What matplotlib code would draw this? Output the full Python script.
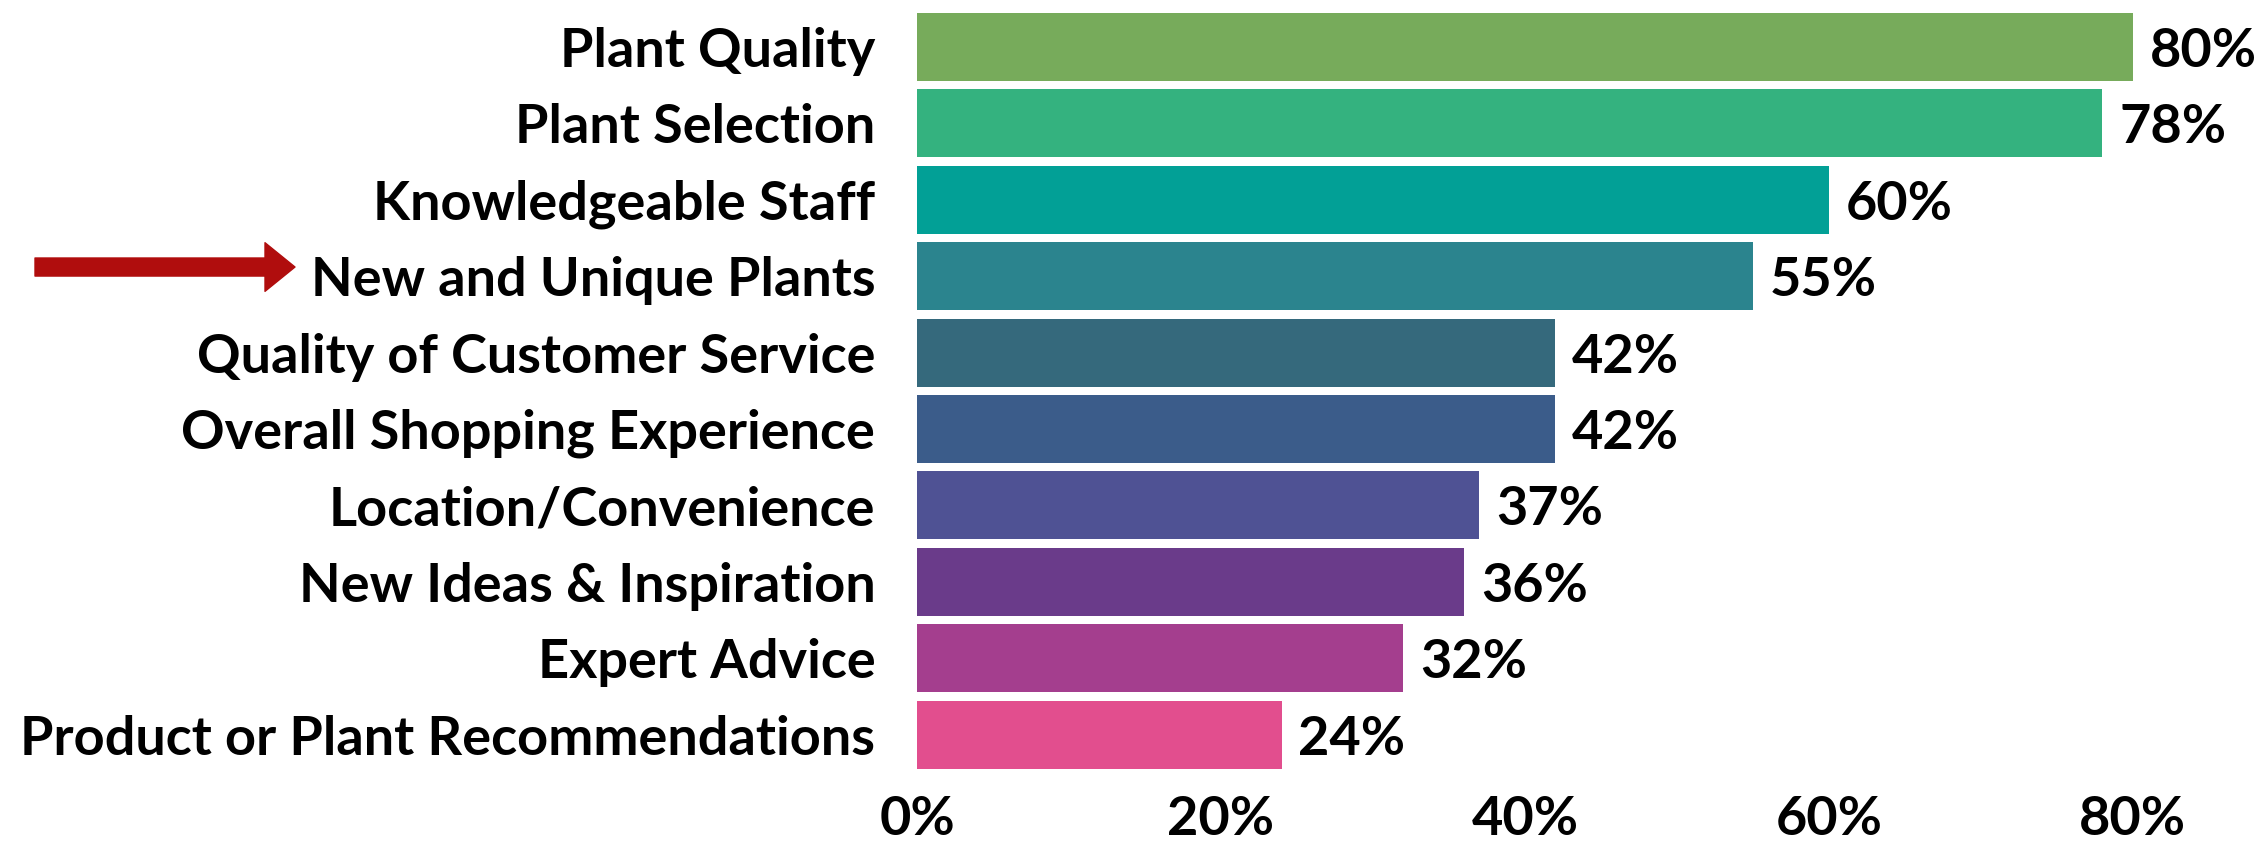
import numpy as np
import matplotlib
matplotlib.use("Agg")
import matplotlib.pyplot as plt

categories = [
    "Plant Quality",
    "Plant Selection",
    "Knowledgeable Staff",
    "New and Unique Plants",
    "Quality of Customer Service",
    "Overall Shopping Experience",
    "Location/Convenience",
    "New Ideas & Inspiration",
    "Expert Advice",
    "Product or Plant Recommendations",
]
values = [80, 78, 60, 55, 42, 42, 37, 36, 32, 24]
bar_colors = [
    "#77ab5b", "#34b27f", "#02a096", "#2b848e", "#35697c",
    "#3b5c8a", "#4f5294", "#6a3b8a", "#a43e8e", "#e24e8e",
]
ticks = [0, 20, 40, 60, 80]
highlight = "New and Unique Plants"

plt.rcParams["font.family"] = ["Lato", "DejaVu Sans"]
plt.rcParams["font.weight"] = "bold"
FS = 39

fig = plt.figure(figsize=(22.62, 8.42), dpi=100)
ax = fig.add_axes([0.4054, 0.0823, 0.5946, 0.9072])

y = np.arange(len(categories))
ax.barh(y, values, height=0.89, color=bar_colors)
ax.set_ylim(len(categories) - 0.5, -0.5)
ax.set_xlim(0, 88.5)

ax.set_yticks(y)
ax.set_yticklabels(categories, fontsize=FS, fontweight="bold", va="center_baseline")
ax.set_xticks(ticks)
ax.set_xticklabels([f"{t}%" for t in ticks], fontsize=FS, fontweight="bold")
ax.tick_params(axis="y", length=0, pad=30)
ax.tick_params(axis="x", length=0, pad=16)

for s in ax.spines.values():
    s.set_visible(False)

for yi, v in zip(y, values):
    ax.annotate(f"{v}%", xy=(v, yi), xytext=(12, 0), textcoords="offset points",
                va="center_baseline", ha="left", fontsize=FS, fontweight="bold")

# red pointer next to the highlighted label
hy = categories.index(highlight) - 0.12
ax.annotate("", xy=(295 / 2262, hy), xytext=(35 / 2262, hy),
            xycoords=("figure fraction", "data"),
            textcoords=("figure fraction", "data"),
            arrowprops=dict(arrowstyle="simple,head_length=21.6,head_width=35,tail_width=13",
                            mutation_scale=1, color="#b00d0d", shrinkA=0, shrinkB=0),
            annotation_clip=False)

fig.savefig("out.png", dpi=100)
